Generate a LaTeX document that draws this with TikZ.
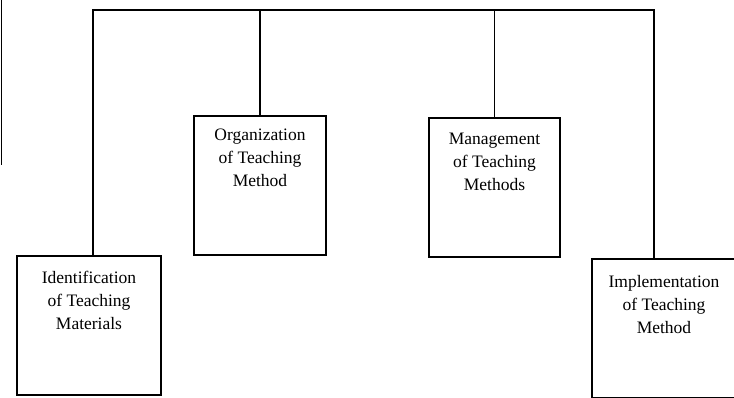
\documentclass[tikz,border=0pt]{standalone}
\usepackage{fontspec}
\setmainfont{Liberation Serif}
\usetikzlibrary{positioning}

\begin{document}
\begin{tikzpicture}[x=1pt,y=-1pt,line width=1.2pt,
  box/.style={draw,minimum width=#1,minimum height=139pt,inner sep=0pt},
  boxtext/.style={inner sep=0pt,align=center}]
  \fontsize{17.5}{23}\selectfont % affects text nodes in this picture
  \useasboundingbox (0,0) rectangle (734,398) ; \clip (0,0) rectangle
  (734,398) ;
  % boxes
  \node[box=144pt] (ident) at (89,325.5) {} ; \node[box=132pt]
  (organ) at (260,185.5) {} ; \node[box=131pt] (manage) at
  (494.5,187.5) {} ; \node[box=144pt] (impl) at (664,328.5) {} ;
  \node[boxtext,below=15pt of ident.north] {Identification\\of
    Teaching\\Materials} ; \node[boxtext,below=13pt of organ.north]
  {Organization\\of Teaching\\Method} ; \node[boxtext,below=15pt of
  manage.north] {Management\\of Teaching\\Methods} ;
  \node[boxtext,below=16pt of impl.north] {Implementation\\of
    Teaching\\Method} ;
  % connectors
  \coordinate (bus) at (0,10) ; \draw ([xshift=4pt]ident.north) |-
  ([xshift=-10pt]impl.north |- bus) -- ([xshift=-10pt]impl.north) ;
  \draw (organ.north) -- (organ.north |- bus) ; \draw (manage.north)
  -- (manage.north |- bus) ;
  % page edge
  \draw[line width=0.8pt] (1,0) -- (1,165) ;
\end{tikzpicture}
\end{document}
